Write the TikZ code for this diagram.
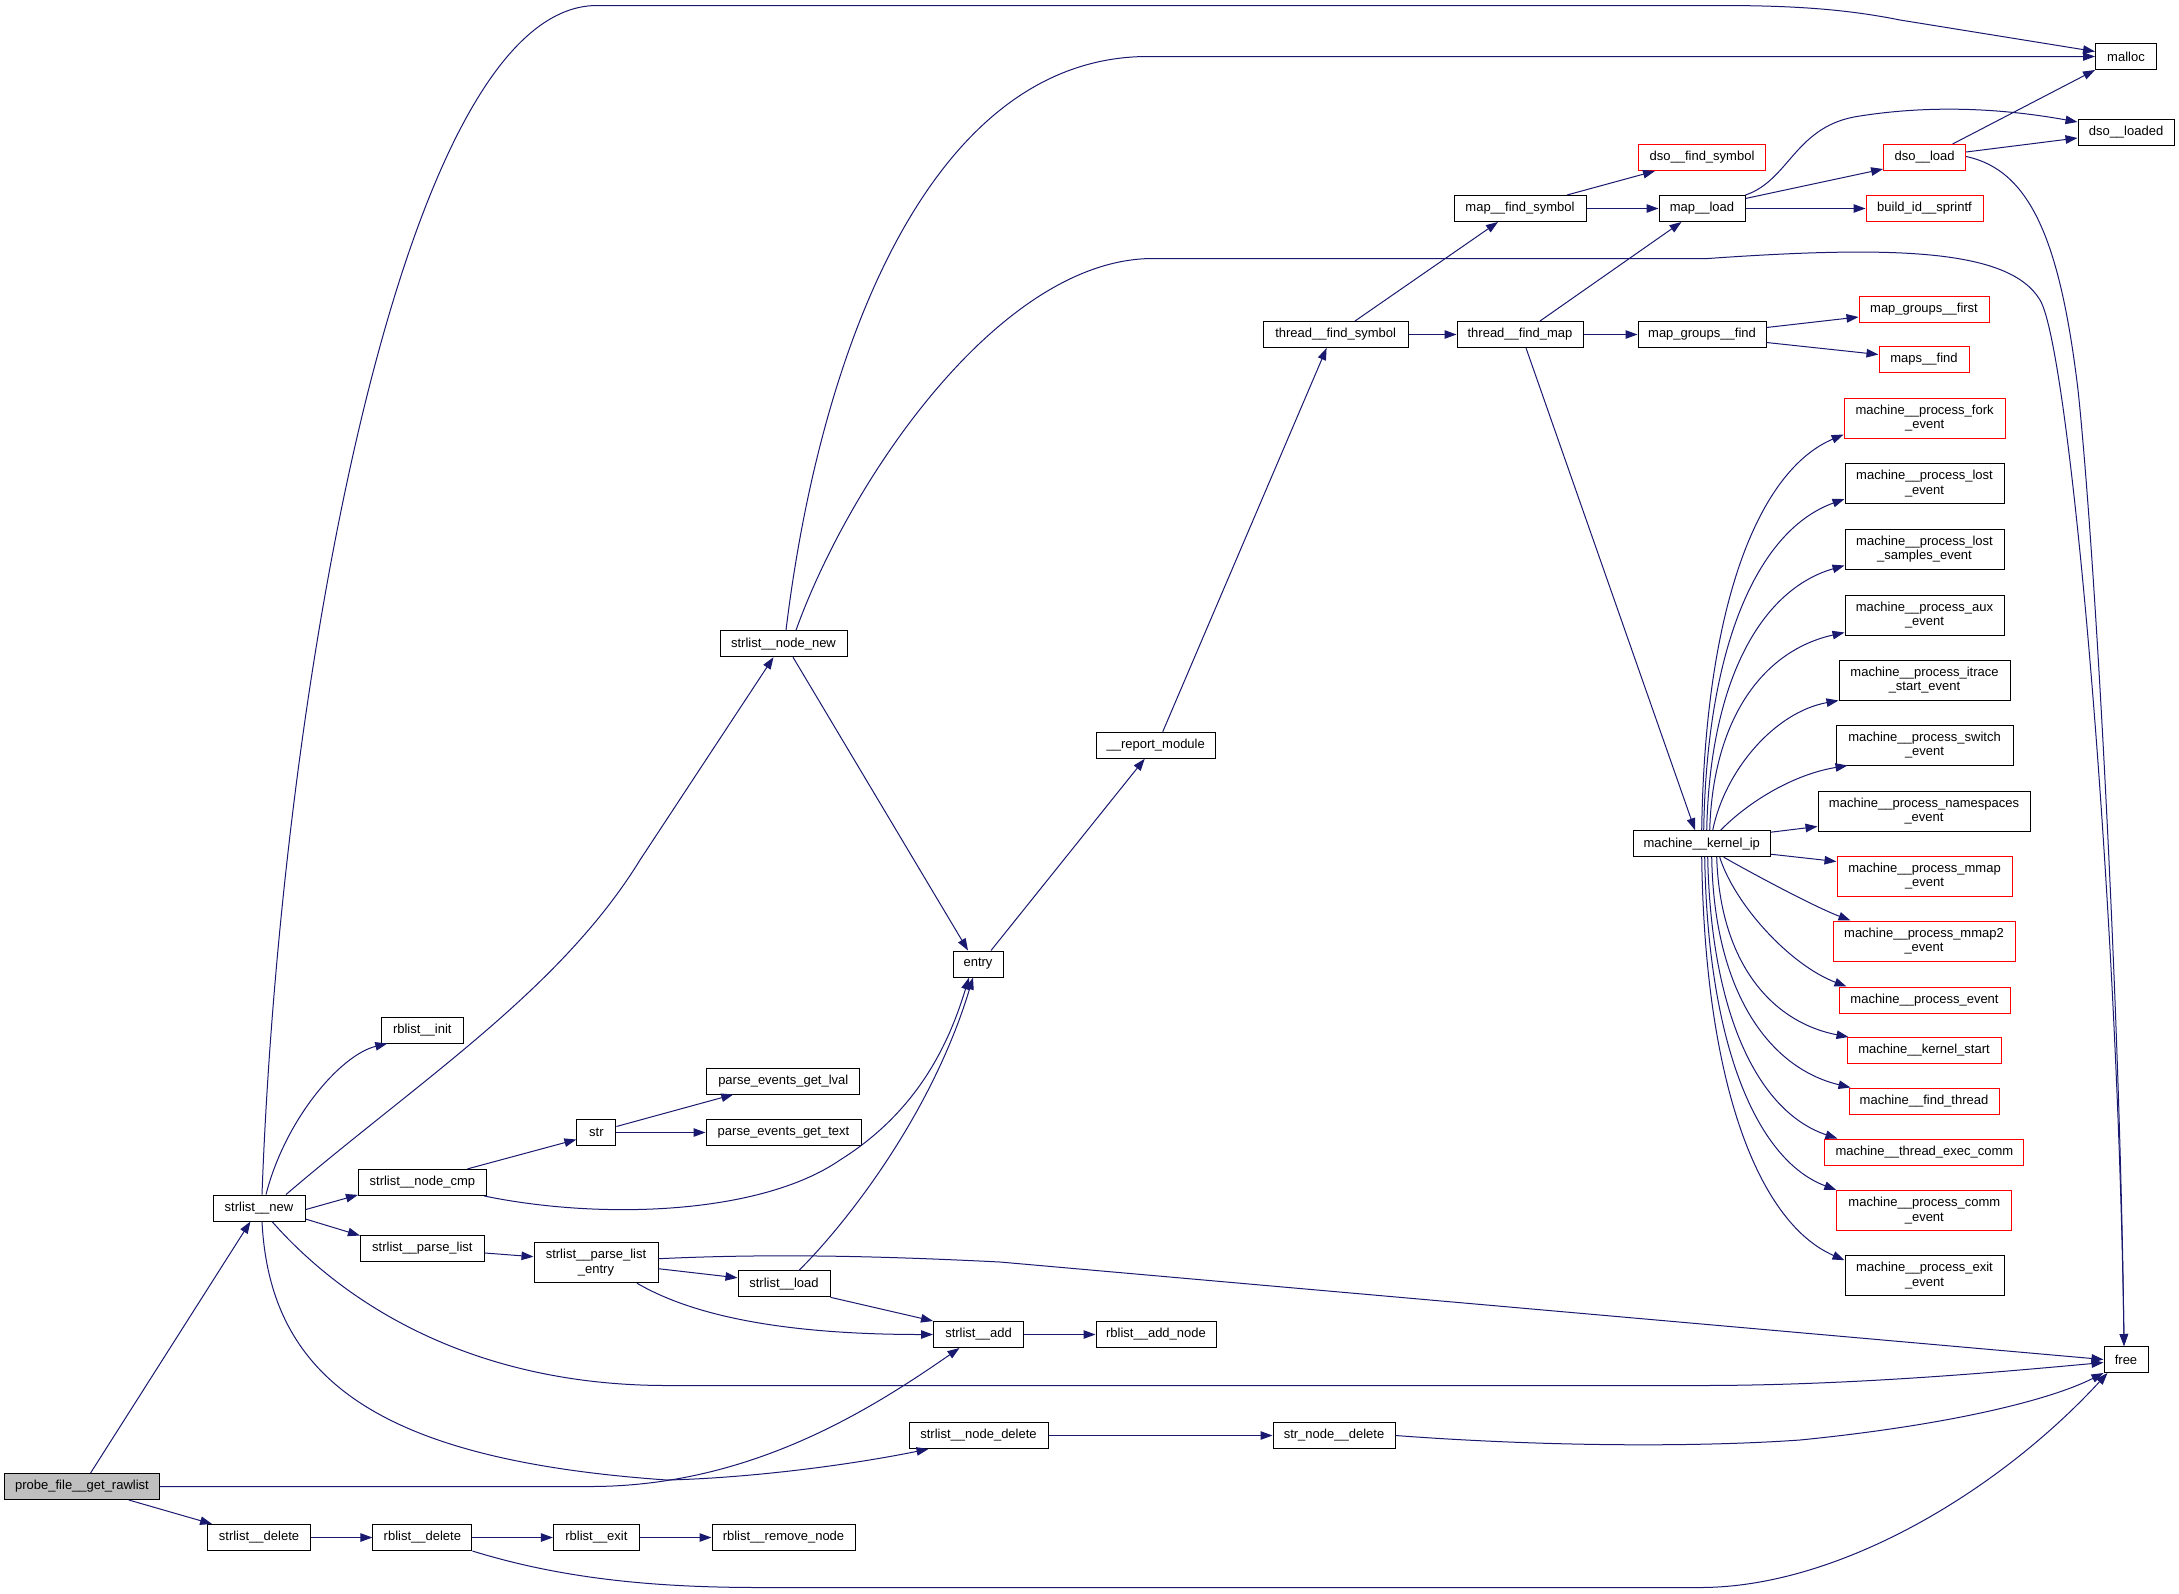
\documentclass[tikz,border=0pt]{standalone}
\usepackage{fontspec}
\setmainfont{Liberation Sans}
\usetikzlibrary{arrows.meta}
\definecolor{edgec}{HTML}{191970}
\definecolor{grayfill}{HTML}{BFBFBF}
\begin{document}
\begin{tikzpicture}[x=1pt,y=-1pt,
 box/.style={draw=black,line width=1pt,fill=white,inner sep=0pt,minimum height=26pt,font=\fontsize{13pt}{14.5pt}\selectfont,align=center},
 rbox/.style={box,draw=red},
 tall/.style={minimum height=40pt},
 cg/.style={draw=edgec,line width=1pt,-{Triangle[length=12pt,width=8.5pt]}}]
\fill[white] (0,0) rectangle (2179,1593);
\useasboundingbox (0,0) rectangle (2179,1593);

\node[box,fill=grayfill,minimum width=155pt] (probe) at (82,1486.5) {probe\_file\_\_get\_rawlist};
\node[box,minimum width=92pt] (snew) at (259,1208) {strlist\_\_new};
\node[box,minimum width=103pt] (sdel) at (259,1537.5) {strlist\_\_delete};
\node[box,minimum width=128pt] (ncmp) at (422.4,1182.4) {strlist\_\_node\_cmp};
\node[box,minimum width=124pt] (plist) at (422.4,1248) {strlist\_\_parse\_list};
\node[box,minimum width=99pt] (rbdel) at (422.4,1537.5) {rblist\_\_delete};
\node[box,minimum width=82pt] (rbinit) at (422.3,1030) {rblist\_\_init};
\node[box,tall,minimum width=124pt] (plentry) at (596,1262.7) {strlist\_\_parse\_list\\\_entry};
\node[box,minimum width=39pt] (str) at (596.4,1132.5) {str};
\node[box,minimum width=86pt] (rbexit) at (596.4,1537.5) {rblist\_\_exit};
\node[box,minimum width=92pt] (sload) at (784,1283.8) {strlist\_\_load};
\node[box,minimum width=127pt] (nnew) at (783.5,643.7) {strlist\_\_node\_new};
\node[box,minimum width=153pt] (lval) at (783.3,1081) {parse\_events\_get\_lval};
\node[box,minimum width=155pt] (ptext) at (783.5,1132.5) {parse\_events\_get\_text};
\node[box,minimum width=143pt] (rbrem) at (783.5,1537.5) {rblist\_\_remove\_node};
\node[box,minimum width=90pt] (sadd) at (978.5,1334.5) {strlist\_\_add};
\node[box,minimum width=50pt] (entry) at (978,964) {entry};
\node[box,minimum width=139pt] (ndel) at (978.5,1435.5) {strlist\_\_node\_delete};
\node[box,minimum width=120pt] (addnode) at (1156,1334.5) {rblist\_\_add\_node};
\node[box,minimum width=119pt] (repmod) at (1155.7,745.3) {\_\_report\_module};
\node[box,minimum width=145pt] (tfs) at (1335.6,334.5) {thread\_\_find\_symbol};
\node[box,minimum width=122pt] (sndel) at (1334,1435.5) {str\_node\_\_delete};
\node[box,minimum width=132pt] (mfs) at (1520,208.5) {map\_\_find\_symbol};
\node[box,minimum width=126pt] (tfm) at (1520,334.5) {thread\_\_find\_map};
\node[rbox,minimum width=127pt] (dfs) at (1702,157.5) {dso\_\_find\_symbol};
\node[box,minimum width=86pt] (mload) at (1702,208.5) {map\_\_load};
\node[box,minimum width=128pt] (mgf) at (1702,334.5) {map\_groups\_\_find};
\node[box,minimum width=137pt] (kip) at (1701.7,843.7) {machine\_\_kernel\_ip};
\node[rbox,minimum width=82pt] (dload) at (1924.6,157.5) {dso\_\_load};
\node[rbox,minimum width=117pt] (bid) at (1924.5,208.5) {build\_id\_\_sprintf};
\node[rbox,minimum width=130pt] (mgfirst) at (1924,309) {map\_groups\_\_first};
\node[rbox,minimum width=90pt] (mapsf) at (1924,359.5) {maps\_\_find};
\node[rbox,tall,minimum width=161pt] (fork) at (1924.6,418) {machine\_\_process\_fork\\\_event};
\node[box,tall,minimum width=159pt] (lost) at (1924.5,483.5) {machine\_\_process\_lost\\\_event};
\node[box,tall,minimum width=159pt] (samples) at (1924.5,549) {machine\_\_process\_lost\\\_samples\_event};
\node[box,tall,minimum width=159pt] (aux) at (1924.5,615) {machine\_\_process\_aux\\\_event};
\node[box,tall,minimum width=171pt] (itrace) at (1924.5,680) {machine\_\_process\_itrace\\\_start\_event};
\node[box,tall,minimum width=177pt] (pswitch) at (1924.5,745) {machine\_\_process\_switch\\\_event};
\node[box,tall,minimum width=212pt] (nsp) at (1924,811) {machine\_\_process\_namespaces\\\_event};
\node[rbox,tall,minimum width=175pt] (mmap) at (1924.5,876) {machine\_\_process\_mmap\\\_event};
\node[rbox,tall,minimum width=182pt] (mmap2) at (1924,941) {machine\_\_process\_mmap2\\\_event};
\node[rbox,minimum width=171pt] (pevent) at (1924.5,1000) {machine\_\_process\_event};
\node[rbox,minimum width=154pt] (kstart) at (1924,1050.5) {machine\_\_kernel\_start};
\node[rbox,minimum width=150pt] (fthread) at (1924,1101) {machine\_\_find\_thread};
\node[rbox,minimum width=199pt] (execc) at (1924.4,1152) {machine\_\_thread\_exec\_comm};
\node[rbox,tall,minimum width=175pt] (comm) at (1924.3,1210.5) {machine\_\_process\_comm\\\_event};
\node[box,tall,minimum width=159pt] (pexit) at (1924.5,1275.7) {machine\_\_process\_exit\\\_event};
\node[box,minimum width=61pt] (malloc) at (2126,56.5) {malloc};
\node[box,minimum width=96pt] (dloaded) at (2126,132) {dso\_\_loaded};
\node[box,minimum width=44pt] (free) at (2126,1359.5) {free};

% edges
\draw[cg] (probe) -- (snew);
\draw[cg] (probe) -- (sdel);
\draw[cg] (probe.east) -- (590,1486.5) .. controls (750,1486.5) and (870,1410) .. ([xshift=-19pt]sadd.south);
\draw[cg] ([xshift=3pt]snew.north) .. controls (280,700) and (400,5.5) .. (597,5.5) -- (1719,5.5) .. controls (1800,5.5) and (1850,10) .. (1900,20) -- ([yshift=5pt]malloc.west);
\draw[cg] ([xshift=7pt]snew.north) .. controls (285,1120) and (340,1055) .. ([xshift=-35pt]rbinit.south);
\draw[cg] ([xshift=27pt]snew.north) .. controls (420,1080) and (560,990) .. (640,860) -- ([xshift=-10pt]nnew.south);
\draw[cg] ([yshift=-1.6pt]snew.east) -- ([yshift=1pt]ncmp.south west);
\draw[cg] ([yshift=-11pt]snew.east) -- ([yshift=-1pt]plist.north west);
\draw[cg] ([xshift=13pt]snew.south) .. controls (350,1310) and (480,1385.5) .. (667,1385.5) -- (1700,1385.5) .. controls (1850,1385.5) and (2000,1372) .. ([yshift=-3pt]free.west);
\draw[cg] ([xshift=3pt]snew.south) .. controls (270,1380) and (380,1460) .. (667,1480) .. controls (750,1478) and (850,1465) .. ([xshift=-50pt]ndel.south);
\draw[cg] ([xshift=2.5pt]nnew.north) .. controls (820,350) and (930,56.5) .. (1148,56.5) -- (malloc.west);
\draw[cg] ([xshift=12.5pt]nnew.north) .. controls (850,480) and (1000,258.5) .. (1153,258.5) -- (1708,258.5) .. controls (1900,245) and (2010,250) .. (2040,300) .. controls (2070,350) and (2118,900) .. ([xshift=-2pt]free.north);
\draw[cg] ([xshift=9.5pt]nnew.south) -- ([xshift=-10pt]entry.north);
\draw[cg] ([xshift=45pt]ncmp.north) -- ([yshift=-7pt]str.west);
\draw[cg] ([xshift=-3pt]ncmp.south east) .. controls (600,1220) and (760,1215) .. (840,1160) .. controls (920,1110) and (950,1040) .. ([xshift=-9pt]entry.south);
\draw[cg] ([yshift=6pt]str.east) -- ([xshift=-50pt]lval.south);
\draw[cg] (str) -- (ptext);
\draw[cg] ([yshift=-5pt]plist.east) -- ([yshift=6pt]plentry.west);
\draw[cg] ([yshift=-6pt]plentry.east) -- ([yshift=6pt]sload.west);
\draw[cg] ([xshift=41pt]plentry.south) .. controls (700,1320) and (800,1334.5) .. (sadd.west);
\draw[cg] ([yshift=4pt]plentry.east) .. controls (760,1254) and (860,1255) .. (1000,1262) -- (free.west);
\draw[cg] ([xshift=15pt]sload.north) .. controls (840,1230) and (930,1120) .. ([xshift=-5pt]entry.south);
\draw[cg] (sload.south east) -- (sadd.north west);
\draw[cg] (sadd) -- (addnode);
\draw[cg] (ndel) -- (sndel);
\draw[cg] (sndel.east) .. controls (1550,1447) and (1700,1447) .. (1800,1440) .. controls (1950,1425) and (2050,1400) .. (free.south west);
\draw[cg] (sdel) -- (rbdel);
\draw[cg] (rbdel) -- (rbexit);
\draw[cg] (rbexit) -- (rbrem);
\draw[cg] (rbdel.south east) .. controls (560,1578) and (650,1587.5) .. (760,1587.5) -- (1700,1587.5) .. controls (1840,1587.5) and (2000,1490) .. ([xshift=4pt]free.south west);
\draw[cg] ([xshift=13pt]entry.north) -- ([xshift=-11pt]repmod.south);
\draw[cg] ([xshift=7pt]repmod.north) -- ([xshift=-9pt]tfs.south);
\draw[cg] ([xshift=19.4pt]tfs.north) -- ([xshift=-22pt]mfs.south);
\draw[cg] (tfs) -- (tfm);
\draw[cg] ([xshift=20pt]tfm.north) -- ([xshift=-20.5pt]mload.south);
\draw[cg] (tfm) -- (mgf);
\draw[cg] ([xshift=6pt]tfm.south) -- ([xshift=-6.7pt]kip.north);
\draw[cg] ([xshift=47pt]mfs.north) -- ([xshift=-47pt]dfs.south);
\draw[cg] (mfs) -- (mload);
\draw[cg] (mload.north east) .. controls (1790,180) and (1795,125) .. (1860,116) .. controls (1930,105) and (2000,108) .. ([yshift=10pt]dloaded.west);
\draw[cg] ([yshift=10pt]mload.east) -- ([yshift=2pt]dload.south west);
\draw[cg] (mload) -- (bid);
\draw[cg] ([xshift=28pt]dload.north) -- (malloc.south west);
\draw[cg] ([yshift=5.5pt]dload.east) -- ([yshift=-6pt]dloaded.west);
\draw[cg] ([yshift=1pt]dload.east) .. controls (2030,170) and (2060,240) .. (2078,390) .. controls (2095,550) and (2120,1000) .. ([xshift=-2pt]free.north);
\draw[cg] ([yshift=7pt]mgf.east) -- ([yshift=-8pt]mgfirst.west);
\draw[cg] ([yshift=-8pt]mgf.east) -- ([yshift=5pt]mapsf.west);

% machine__kernel_ip fan
\draw[cg] (kip.north) .. controls (1705,601) and (1760,470) .. ([yshift=4pt]fork.south west);
\draw[cg] ([xshift=2pt]kip.north) .. controls (1707,638) and (1761,529) .. ([yshift=5pt]lost.south west);
\draw[cg] ([xshift=5pt]kip.north) .. controls (1710,677) and (1763,589) .. ([yshift=4pt]samples.south west);
\draw[cg] ([xshift=8pt]kip.north) .. controls (1713,716) and (1765,650) .. ([yshift=3pt]aux.south west);
\draw[cg] ([xshift=11pt]kip.north) .. controls (1725,770) and (1775,712) .. (itrace.south west);
\draw[cg] ([xshift=19pt]kip.north) .. controls (1745,805) and (1790,775) .. ([xshift=12pt]pswitch.south west);
\draw[cg] ([yshift=-2pt]kip.north east) -- ([yshift=5pt]nsp.south west);
\draw[cg] ([yshift=3pt]kip.south east) -- ([yshift=-6pt]mmap.north west);
\draw[cg] ([xshift=22pt]kip.south) .. controls (1755,875) and (1815,907) .. ([xshift=18pt]mmap2.north west);
\draw[cg] ([xshift=18pt]kip.south) .. controls (1735,905) and (1790,965) .. ([xshift=8pt]pevent.north west);
\draw[cg] ([xshift=15pt]kip.south) .. controls (1720,962) and (1771,1022) .. ([xshift=2pt]kstart.north west);
\draw[cg] ([xshift=10pt]kip.south) .. controls (1714,992) and (1769,1068) .. ([xshift=2pt]fthread.north west);
\draw[cg] ([xshift=6pt]kip.south) .. controls (1711,1020) and (1761,1113) .. ([xshift=13pt]execc.north west);
\draw[cg] ([xshift=3pt]kip.south) .. controls (1708,1051) and (1759,1161) .. (comm.north west);
\draw[cg] (kip.south) .. controls (1705,1091) and (1761,1224) .. ([yshift=-5pt]pexit.north west);
\end{tikzpicture}
\end{document}
